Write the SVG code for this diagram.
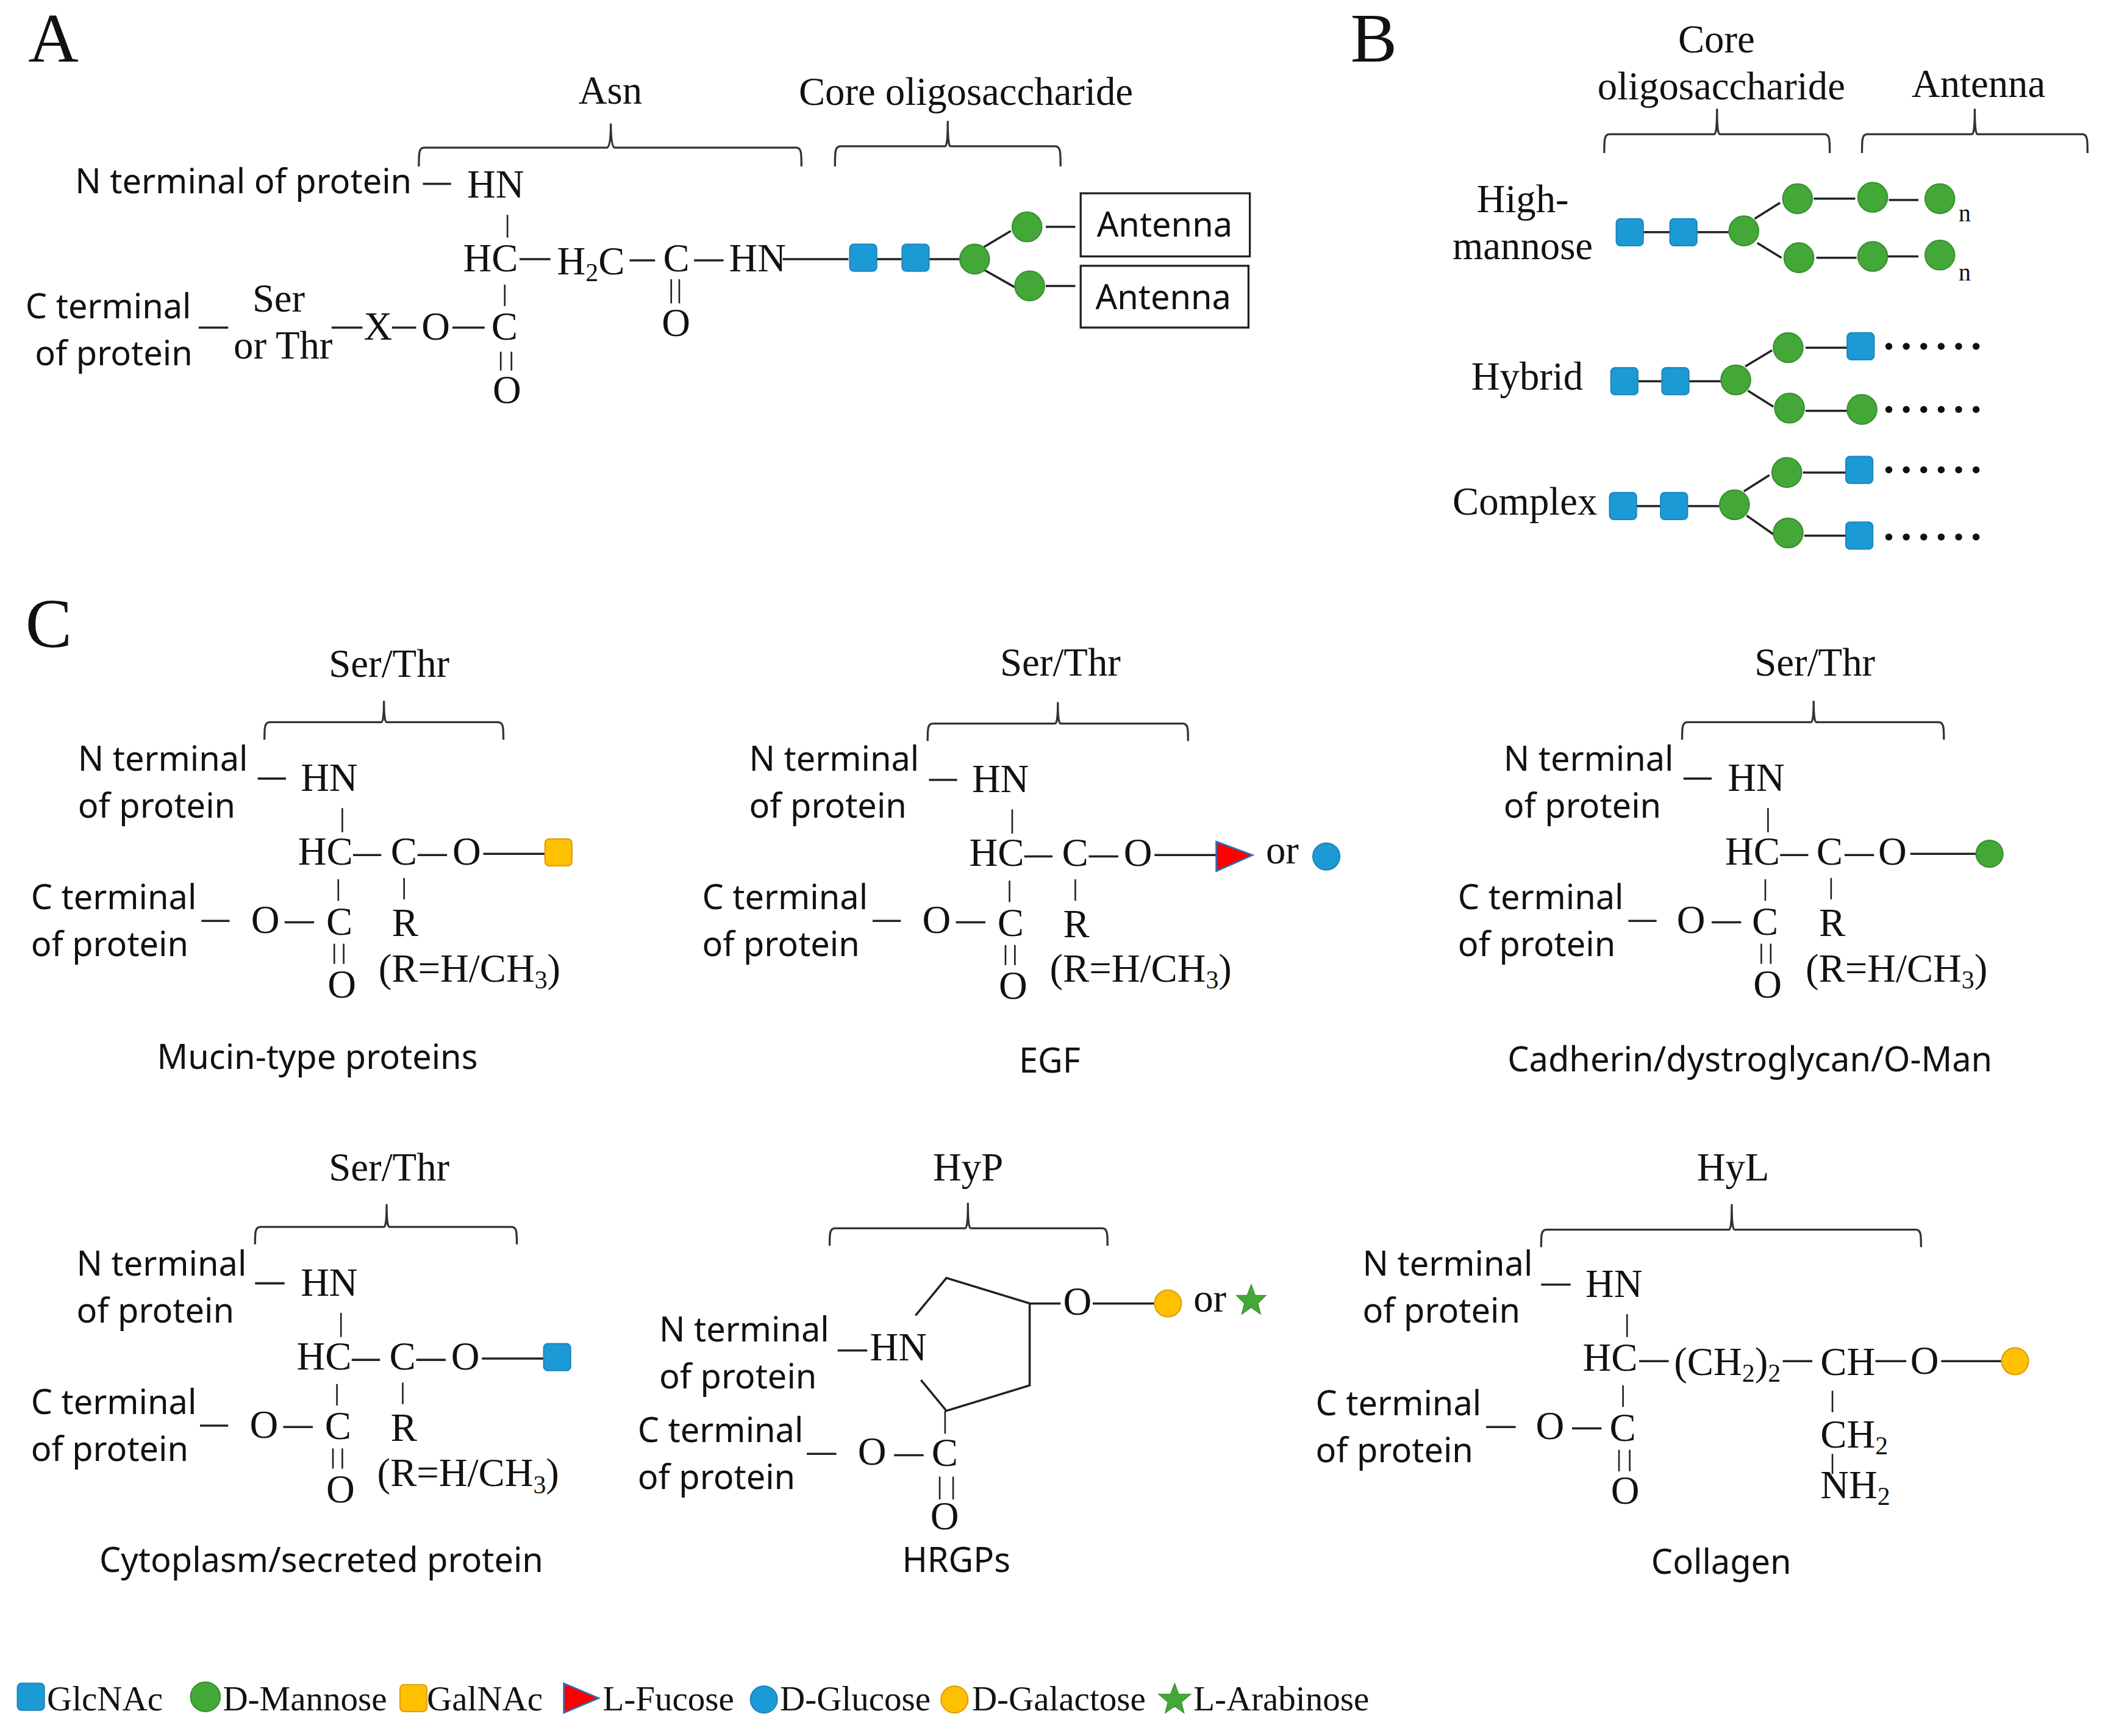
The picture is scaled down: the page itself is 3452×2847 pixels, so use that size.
<svg xmlns="http://www.w3.org/2000/svg" width="3452" height="2847" viewBox="0 0 3452 2847">
<style>
text{fill:#111}
.t{font-family:"Liberation Serif",serif;font-size:29.4px;transform:translateY(-0.8px)}
.s{font-family:"Noto Sans","Open Sans",sans-serif;font-size:25.4px;transform:translateY(-0.8px)}
.l{font-family:"Liberation Serif",serif;font-size:52px}
.g{font-family:"Liberation Serif",serif;font-size:25.9px}
.n{font-family:"Liberation Serif",serif;font-size:18px}
.sub{font-size:19px}
.c line,.c path{fill:none;stroke:#222;stroke-width:1.6}
.c .v{stroke-width:1.2}
.b{fill:none;stroke:#333;stroke-width:1.5}
.gn{fill:#1c9ad6;stroke:#1b87c0;stroke-width:1}
.man{fill:#43a838;stroke:#3b9132;stroke-width:1}
.gal{fill:#ffc000;stroke:#dd9f10;stroke-width:1}
.fuc{fill:#f00;stroke:#2a6fb5;stroke-width:1.2}
.star{fill:#43a838;stroke:#3b9132;stroke-width:.6}
.d{fill:#111}
</style>
<rect width="3452" height="2847" fill="#fff"/>
<g transform="scale(2.2015)">
<g id="connectors" class="c">
<!-- panel A -->
<line x1="315" y1="137" x2="336" y2="137"/><line class="v" x1="378" y1="160" x2="378" y2="177"/><line x1="387" y1="193" x2="410" y2="193"/><line x1="469" y1="194" x2="488" y2="194"/><line x1="517" y1="194" x2="539" y2="194"/><line x1="583" y1="193" x2="632" y2="193"/><line x1="653" y1="193" x2="672" y2="193"/><line x1="692" y1="193" x2="715" y2="193"/><line x1="733" y1="184" x2="753" y2="172"/><line x1="733" y1="201" x2="756" y2="214"/><line x1="779" y1="169" x2="801" y2="169"/><line x1="779" y1="213" x2="801" y2="213"/>
<line class="v" x1="376" y1="212" x2="376" y2="228"/><line class="v" x1="500" y1="208" x2="500" y2="226"/><line class="v" x1="506" y1="208" x2="506" y2="226"/><line x1="148" y1="244" x2="170" y2="244"/><line x1="247" y1="244" x2="270" y2="244"/><line x1="292" y1="244" x2="310" y2="244"/><line x1="337" y1="244" x2="361" y2="244"/><line class="v" x1="373" y1="262" x2="373" y2="276"/><line class="v" x1="381" y1="262" x2="381" y2="276"/>
<!-- panel B -->
<line x1="1224" y1="173" x2="1244" y2="173"/><line x1="1264" y1="173" x2="1288" y2="173"/><line x1="1307" y1="163" x2="1326" y2="151"/><line x1="1309" y1="181" x2="1327" y2="192"/><line x1="1351" y1="148" x2="1382" y2="148"/><line x1="1407" y1="149" x2="1429" y2="149"/><line x1="1353" y1="192" x2="1383" y2="192"/><line x1="1406" y1="191" x2="1429" y2="191"/>
<line x1="1220" y1="284" x2="1238" y2="284"/><line x1="1258" y1="284" x2="1282" y2="284"/><line x1="1300" y1="273" x2="1320" y2="261"/><line x1="1302" y1="291" x2="1321" y2="303"/><line x1="1345" y1="259" x2="1376" y2="259"/><line x1="1345" y1="306" x2="1376" y2="306"/>
<line x1="1219" y1="377" x2="1237" y2="377"/><line x1="1257" y1="377" x2="1281" y2="377"/><line x1="1299" y1="366" x2="1318" y2="354"/><line x1="1301" y1="384" x2="1321" y2="398"/><line x1="1343" y1="352" x2="1375" y2="352"/><line x1="1344" y1="399" x2="1375" y2="399"/>
<!-- C1 -->
<line x1="192" y1="580" x2="213" y2="580"/><line class="v" x1="255" y1="602" x2="255" y2="620"/><line x1="263" y1="637" x2="284" y2="637"/><line x1="311" y1="637" x2="333" y2="637"/><line x1="360" y1="636" x2="406" y2="636"/><line class="v" x1="252" y1="655" x2="252" y2="671"/><line class="v" x1="301" y1="654" x2="301" y2="670"/><line x1="150" y1="686" x2="171" y2="686"/><line x1="212" y1="687" x2="234" y2="687"/><line class="v" x1="249" y1="703" x2="249" y2="718"/><line class="v" x1="256" y1="703" x2="256" y2="718"/>
<!-- C2 -->
<line x1="692" y1="581" x2="713" y2="581"/><line class="v" x1="754" y1="603" x2="754" y2="621"/><line x1="763" y1="638" x2="784" y2="638"/><line x1="811" y1="638" x2="833" y2="638"/><line x1="860" y1="637" x2="906" y2="637"/><line class="v" x1="752" y1="656" x2="752" y2="672"/><line class="v" x1="801" y1="655" x2="801" y2="671"/><line x1="650" y1="686" x2="671" y2="686"/><line x1="712" y1="687" x2="734" y2="687"/><line class="v" x1="749" y1="704" x2="749" y2="719"/><line class="v" x1="756" y1="704" x2="756" y2="719"/>
<!-- C3 -->
<line x1="1254" y1="580" x2="1275" y2="580"/><line class="v" x1="1317" y1="602" x2="1317" y2="620"/><line x1="1326" y1="637" x2="1347" y2="637"/><line x1="1374" y1="637" x2="1396" y2="637"/><line x1="1423" y1="636" x2="1472" y2="636"/><line class="v" x1="1315" y1="655" x2="1315" y2="671"/><line class="v" x1="1364" y1="654" x2="1364" y2="670"/><line x1="1213" y1="686" x2="1234" y2="686"/><line x1="1275" y1="687" x2="1297" y2="687"/><line class="v" x1="1312" y1="703" x2="1312" y2="718"/><line class="v" x1="1319" y1="703" x2="1319" y2="718"/>
<!-- C4 -->
<line x1="190" y1="956" x2="212" y2="956"/><line class="v" x1="254" y1="978" x2="254" y2="996"/><line x1="262" y1="1013" x2="283" y2="1013"/><line x1="310" y1="1013" x2="332" y2="1013"/><line x1="359" y1="1012" x2="405" y2="1012"/><line class="v" x1="251" y1="1031" x2="251" y2="1047"/><line class="v" x1="300" y1="1030" x2="300" y2="1046"/><line x1="149" y1="1062" x2="170" y2="1062"/><line x1="211" y1="1063" x2="233" y2="1063"/><line class="v" x1="248" y1="1079" x2="248" y2="1094"/><line class="v" x1="255" y1="1079" x2="255" y2="1094"/>
<!-- C5 -->
<path d="M682,980 L705,952 L767,971 L767,1032 L705,1051 L686,1028"/><line x1="767" y1="971" x2="790" y2="971"/><line x1="814" y1="971" x2="860" y2="971"/><line x1="624" y1="1006" x2="646" y2="1006"/><line class="v" x1="704" y1="1051" x2="704" y2="1068"/><line x1="601" y1="1083" x2="623" y2="1083"/><line x1="666" y1="1084" x2="688" y2="1084"/><line class="v" x1="700" y1="1100" x2="700" y2="1117"/><line class="v" x1="710" y1="1100" x2="710" y2="1117"/>
<!-- C6 -->
<line x1="1148" y1="957" x2="1170" y2="957"/><line class="v" x1="1212" y1="979" x2="1212" y2="996"/><line x1="1221" y1="1014" x2="1243" y2="1014"/><line x1="1328" y1="1014" x2="1350" y2="1014"/><line x1="1397" y1="1014" x2="1420" y2="1014"/><line x1="1446" y1="1014" x2="1491" y2="1014"/><line class="v" x1="1209" y1="1032" x2="1209" y2="1048"/><line x1="1107" y1="1063" x2="1129" y2="1063"/><line x1="1171" y1="1064" x2="1193" y2="1064"/><line class="v" x1="1206" y1="1080" x2="1206" y2="1096"/><line class="v" x1="1214" y1="1080" x2="1214" y2="1096"/><line class="v" x1="1365" y1="1036" x2="1365" y2="1052"/><line class="v" x1="1365" y1="1083" x2="1365" y2="1098"/>
</g>
<g id="brackets">
<path class="b" d="M312,124C312,114 312,110 316,110L452,110Q455,110 455,92Q455,110 458,110L593,110C597,110 597,114 597,124"/>
<path class="b" d="M622,124C622,113 622,109 626,109L704,109Q706,109 706,90Q706,109 708,109L786,109C790,109 790,113 790,124"/>
<path class="b" d="M1195,114C1195,104 1195,100 1199,100L1277,100Q1279,100 1279,81Q1279,100 1281,100L1359,100C1363,100 1363,104 1363,114"/>
<path class="b" d="M1387,114C1387,104 1387,100 1391,100L1469,100Q1471,100 1471,81Q1471,100 1473,100L1551,100C1555,100 1555,104 1555,114"/>
<path class="b" d="M197,551C197,542 197,538 201,538L284,538Q286,538 286,522Q286,538 288,538L371,538C375,538 375,542 375,551"/>
<path class="b" d="M691,552C691,543 691,539 695,539L786,539Q788,539 788,523Q788,539 790,539L881,539C885,539 885,543 885,552"/>
<path class="b" d="M1253,551C1253,542 1253,538 1257,538L1349,538Q1351,538 1351,522Q1351,538 1353,538L1444,538C1448,538 1448,542 1448,551"/>
<path class="b" d="M190,927C190,918 190,914 194,914L286,914Q288,914 288,897Q288,914 290,914L381,914C385,914 385,918 385,927"/>
<path class="b" d="M618,928C618,919 618,915 622,915L719,915Q721,915 721,896Q721,915 723,915L821,915C825,915 825,919 825,928"/>
<path class="b" d="M1148,929C1148,920 1148,916 1152,916L1288,916Q1290,916 1290,897Q1290,916 1292,916L1427,916C1431,916 1431,920 1431,929"/>
</g>
<g id="panel-A">
<text class="l" x="21" y="46">A</text>
<text class="t" x="431" y="78">Asn</text>
<text class="t" x="595" y="79">Core oligosaccharide</text>
<text class="s" x="56" y="145">N terminal of protein</text>
<text class="t" x="348" y="148">HN</text>
<text class="t" x="345" y="203">HC</text>
<text class="t" x="415" y="205">H<tspan class="sub" dy="5">2</tspan><tspan dy="-5">C</tspan></text>
<text class="t" x="494" y="203">C</text>
<text class="t" x="543" y="203">HN</text>
<text class="t" x="493" y="251">O</text>
<text class="s" x="19" y="238">C terminal</text>
<text class="s" x="26" y="273">of protein</text>
<text class="t" x="188" y="233">Ser</text>
<text class="t" x="174" y="268">or Thr</text>
<text class="t" x="271" y="254">X</text>
<text class="t" x="314" y="254">O</text>
<text class="t" x="366" y="254">C</text>
<text class="t" x="367" y="301">O</text>
<g id="a-antenna-1"><rect x="805" y="144" width="126" height="47" fill="#fff" stroke="#222" stroke-width="1.5"/><text class="s" x="817" y="177">Antenna</text></g>
<g id="a-antenna-2"><rect x="805" y="198" width="125" height="46" fill="#fff" stroke="#222" stroke-width="1.5"/><text class="s" x="816" y="231">Antenna</text></g>
<g id="a-glcnac-1"><rect class="gn" x="633" y="182" width="20" height="20" rx="3"/></g>
<g id="a-glcnac-2"><rect class="gn" x="672" y="182" width="20" height="20" rx="3"/></g>
<g id="a-man-1"><circle class="man" cx="726" cy="193" r="11"/></g>
<g id="a-man-2"><circle class="man" cx="765" cy="169" r="11"/></g>
<g id="a-man-3"><circle class="man" cx="767" cy="213" r="11"/></g>
</g>
<g id="panel-B">
<text class="l" x="1006" y="46">B</text>
<text class="t" x="1250" y="40">Core</text>
<text class="t" x="1190" y="75">oligosaccharide</text>
<text class="t" x="1424" y="73">Antenna</text>
<text class="t" x="1100" y="159">High-</text>
<text class="t" x="1082" y="194">mannose</text>
<text class="t" x="1096" y="291">Hybrid</text>
<text class="t" x="1082" y="384">Complex</text>
<text class="n" x="1459" y="165">n</text>
<text class="n" x="1459" y="209">n</text>
<g id="b-high">
<rect class="gn" x="1204" y="163" width="20" height="20" rx="3"/><rect class="gn" x="1244" y="163" width="20" height="20" rx="3"/>
<circle class="man" cx="1299" cy="172" r="11"/><circle class="man" cx="1339" cy="148" r="11"/><circle class="man" cx="1340" cy="192" r="11"/><circle class="man" cx="1395" cy="147" r="11"/><circle class="man" cx="1395" cy="191" r="11"/><circle class="man" cx="1445" cy="148" r="11"/><circle class="man" cx="1445" cy="190" r="11"/>
</g>
<g id="b-hybrid">
<rect class="gn" x="1200" y="274" width="20" height="20" rx="3"/><rect class="gn" x="1238" y="274" width="20" height="20" rx="3"/>
<circle class="man" cx="1293" cy="283" r="11"/><circle class="man" cx="1332" cy="259" r="11"/><circle class="man" cx="1333" cy="304" r="11"/>
<rect class="gn" x="1376" y="248" width="20" height="20" rx="3"/><circle class="man" cx="1387" cy="305" r="11"/>
<circle class="d" cx="1407" cy="258" r="2.6"/><circle class="d" cx="1420" cy="258" r="2.6"/><circle class="d" cx="1433" cy="258" r="2.6"/><circle class="d" cx="1446" cy="258" r="2.6"/><circle class="d" cx="1459" cy="258" r="2.6"/><circle class="d" cx="1472" cy="258" r="2.6"/>
<circle class="d" cx="1407" cy="305" r="2.6"/><circle class="d" cx="1420" cy="305" r="2.6"/><circle class="d" cx="1433" cy="305" r="2.6"/><circle class="d" cx="1446" cy="305" r="2.6"/><circle class="d" cx="1459" cy="305" r="2.6"/><circle class="d" cx="1472" cy="305" r="2.6"/>
</g>
<g id="b-complex">
<rect class="gn" x="1199" y="367" width="20" height="20" rx="3"/><rect class="gn" x="1237" y="367" width="20" height="20" rx="3"/>
<circle class="man" cx="1292" cy="376" r="11"/><circle class="man" cx="1331" cy="352" r="11"/><circle class="man" cx="1332" cy="397" r="11"/>
<rect class="gn" x="1375" y="340" width="20" height="20" rx="3"/><rect class="gn" x="1375" y="389" width="20" height="20" rx="3"/>
<circle class="d" cx="1407" cy="350" r="2.6"/><circle class="d" cx="1420" cy="350" r="2.6"/><circle class="d" cx="1433" cy="350" r="2.6"/><circle class="d" cx="1446" cy="350" r="2.6"/><circle class="d" cx="1459" cy="350" r="2.6"/><circle class="d" cx="1472" cy="350" r="2.6"/>
<circle class="d" cx="1407" cy="400" r="2.6"/><circle class="d" cx="1420" cy="400" r="2.6"/><circle class="d" cx="1433" cy="400" r="2.6"/><circle class="d" cx="1446" cy="400" r="2.6"/><circle class="d" cx="1459" cy="400" r="2.6"/><circle class="d" cx="1472" cy="400" r="2.6"/>
</g>
</g>
<g id="panel-C">
<text class="l" x="19" y="482">C</text>
<g id="c-mucin">
<text class="t" x="245" y="505">Ser/Thr</text>
<text class="s" x="58" y="575">N terminal</text><text class="s" x="58" y="610">of protein</text>
<text class="t" x="224" y="590">HN</text><text class="t" x="222" y="645">HC</text><text class="t" x="291" y="645">C</text><text class="t" x="337" y="645">O</text>
<text class="s" x="23" y="678">C terminal</text><text class="s" x="23" y="713">of protein</text>
<text class="t" x="187" y="696">O</text><text class="t" x="243" y="697">C</text><text class="t" x="244" y="744">O</text><text class="t" x="292" y="698">R</text>
<text class="t" x="282" y="732">(R=H/CH<tspan class="sub" dy="5">3</tspan><tspan dy="-5">)</tspan></text>
<text class="s" x="117" y="797">Mucin-type proteins</text>
<rect class="gal" x="406" y="625" width="20" height="20" rx="3"/>
</g>
<g id="c-egf">
<text class="t" x="745" y="504">Ser/Thr</text>
<text class="s" x="558" y="575">N terminal</text><text class="s" x="558" y="610">of protein</text>
<text class="t" x="724" y="591">HN</text><text class="t" x="722" y="646">HC</text><text class="t" x="791" y="646">C</text><text class="t" x="837" y="646">O</text>
<text class="s" x="523" y="678">C terminal</text><text class="s" x="523" y="713">of protein</text>
<text class="t" x="687" y="696">O</text><text class="t" x="743" y="698">C</text><text class="t" x="744" y="745">O</text><text class="t" x="792" y="699">R</text>
<text class="t" x="782" y="732">(R=H/CH<tspan class="sub" dy="5">3</tspan><tspan dy="-5">)</tspan></text>
<text class="t" x="943" y="644">or</text>
<text class="s" x="759" y="800">EGF</text>
<path class="fuc" d="M906,627L933,637L906,649Z"/><circle class="gn" cx="988" cy="638" r="10"/>
</g>
<g id="c-cadherin">
<text class="t" x="1307" y="504">Ser/Thr</text>
<text class="s" x="1120" y="575">N terminal</text><text class="s" x="1120" y="610">of protein</text>
<text class="t" x="1287" y="590">HN</text><text class="t" x="1285" y="645">HC</text><text class="t" x="1353" y="645">C</text><text class="t" x="1399" y="645">O</text>
<text class="s" x="1086" y="678">C terminal</text><text class="s" x="1086" y="713">of protein</text>
<text class="t" x="1249" y="696">O</text><text class="t" x="1305" y="697">C</text><text class="t" x="1306" y="744">O</text><text class="t" x="1355" y="698">R</text>
<text class="t" x="1345" y="732">(R=H/CH<tspan class="sub" dy="5">3</tspan><tspan dy="-5">)</tspan></text>
<text class="s" x="1123" y="799">Cadherin/dystroglycan/O-Man</text>
<circle class="man" cx="1482" cy="636" r="10"/>
</g>
<g id="c-cytoplasm">
<text class="t" x="245" y="880">Ser/Thr</text>
<text class="s" x="57" y="951">N terminal</text><text class="s" x="57" y="986">of protein</text>
<text class="t" x="224" y="966">HN</text><text class="t" x="221" y="1021">HC</text><text class="t" x="290" y="1021">C</text><text class="t" x="336" y="1021">O</text>
<text class="s" x="23" y="1054">C terminal</text><text class="s" x="23" y="1089">of protein</text>
<text class="t" x="186" y="1072">O</text><text class="t" x="242" y="1073">C</text><text class="t" x="243" y="1120">O</text><text class="t" x="291" y="1074">R</text>
<text class="t" x="281" y="1108">(R=H/CH<tspan class="sub" dy="5">3</tspan><tspan dy="-5">)</tspan></text>
<text class="s" x="74" y="1172">Cytoplasm/secreted protein</text>
<rect class="gn" x="405" y="1001" width="20" height="20" rx="3"/>
</g>
<g id="c-hrgps">
<text class="t" x="695" y="880">HyP</text>
<text class="s" x="491" y="1000">N terminal</text><text class="s" x="491" y="1035">of protein</text>
<text class="t" x="648" y="1014">HN</text><text class="t" x="792" y="980">O</text>
<text class="s" x="475" y="1075">C terminal</text><text class="s" x="475" y="1110">of protein</text>
<text class="t" x="639" y="1092">O</text><text class="t" x="694" y="1093">C</text><text class="t" x="693" y="1140">O</text>
<text class="t" x="889" y="978">or</text>
<text class="s" x="672" y="1172">HRGPs</text>
<circle class="gal" cx="870" cy="971" r="10"/>
<path class="star" d="M932,957L935,965L943,965L937,971L939,979L932,974L925,979L927,971L921,965L929,965Z"/>
</g>
<g id="c-collagen">
<text class="t" x="1264" y="880">HyL</text>
<text class="s" x="1015" y="951">N terminal</text><text class="s" x="1015" y="986">of protein</text>
<text class="t" x="1181" y="967">HN</text><text class="t" x="1179" y="1022">HC</text>
<text class="t" x="1247" y="1025">(CH<tspan class="sub" dy="5">2</tspan><tspan dy="-5">)</tspan><tspan class="sub" dy="5">2</tspan></text>
<text class="t" x="1356" y="1025">CH</text><text class="t" x="1423" y="1024">O</text>
<text class="s" x="980" y="1055">C terminal</text><text class="s" x="980" y="1090">of protein</text>
<text class="t" x="1144" y="1073">O</text><text class="t" x="1199" y="1074">C</text><text class="t" x="1200" y="1121">O</text>
<text class="t" x="1356" y="1079">CH<tspan class="sub" dy="5">2</tspan></text>
<text class="t" x="1356" y="1117">NH<tspan class="sub" dy="5">2</tspan></text>
<text class="s" x="1230" y="1173">Collagen</text>
<circle class="gal" cx="1501" cy="1014" r="10"/>
</g>
</g>
<g id="legend">
<g id="lg-glcnac"><rect class="gn" x="13" y="1254" width="20" height="20" rx="3"/><text class="g" x="35" y="1274">GlcNAc</text></g>
<g id="lg-mannose"><circle class="man" cx="153" cy="1264" r="11"/><text class="g" x="166" y="1274">D-Mannose</text></g>
<g id="lg-galnac"><rect class="gal" x="298" y="1255" width="20" height="20" rx="3"/><text class="g" x="318" y="1274">GalNAc</text></g>
<g id="lg-fucose"><path class="fuc" d="M420,1254L446,1265L420,1276Z"/><text class="g" x="449" y="1274">L-Fucose</text></g>
<g id="lg-glucose"><circle class="gn" cx="569" cy="1266" r="10"/><text class="g" x="581" y="1274">D-Glucose</text></g>
<g id="lg-galactose"><circle class="gal" cx="711" cy="1266" r="10"/><text class="g" x="724" y="1274">D-Galactose</text></g>
<g id="lg-arabinose"><path class="star" d="M875,1254L878,1262L887,1262L880,1268L882,1276L875,1271L868,1276L870,1268L863,1262L872,1262Z"/><text class="g" x="889" y="1274">L-Arabinose</text></g>
</g>
</g>
</svg>
